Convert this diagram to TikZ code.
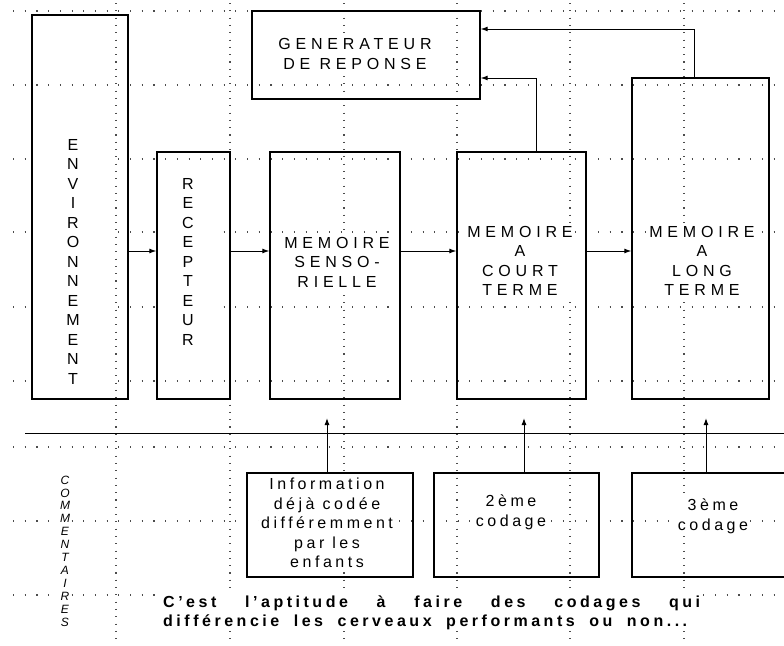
\documentclass[tikz,border=0pt]{standalone}
\usepackage{fontspec}
\setmainfont{Liberation Sans}
\newfontfamily\capsf[LetterSpace=30]{Liberation Sans}
\newfontfamily\lowf[LetterSpace=22]{Liberation Sans}
\newfontfamily\boldf[LetterSpace=22]{Liberation Sans Bold}
\usetikzlibrary{arrows.meta}
\tikzset{
  box/.style={draw, line width=1.3pt, inner sep=0pt},
  capslbl/.style={fill=white, inner sep=2pt, align=center, font={\capsf\fontsize{16}{19.5}\selectfont}},
  lowlbl/.style={fill=white, inner sep=2pt, align=center, font={\lowf\fontsize{16}{19.5}\selectfont}},
  stacklbl/.style={fill=white, inner sep=2pt, align=center, font={\fontsize{16}{19.5}\selectfont}},
  comlbl/.style={fill=white, inner sep=1.5pt, align=center, font={\itshape\fontsize{12}{12.9}\selectfont}},
  boldlbl/.style={fill=white, inner sep=1pt, align=left, anchor=west, font={\boldf\fontsize{16}{19}\selectfont}},
  arr/.style={line width=1pt, -{Latex[length=7pt,width=5pt]}},
  sep/.style={line width=1pt},
  hdot/.style={line width=1.1pt, black!70, dash pattern=on 1.1pt off 10.6pt},
  vdot/.style={line width=1.1pt, black!70, dash pattern=on 1.1pt off 6.2pt},
}
\begin{document}
\begin{tikzpicture}[x=1pt,y=-1pt]
\clip (0,0) rectangle (784,645);
\fill[white] (0,0) rectangle (784,645);
% grid
\foreach \y in {11,85,159,232,307,381,447,521,595} \draw[hdot] (13,\y) -- (784,\y);
\foreach \x in {116,230,344,457,570,684} \draw[vdot] (\x,3) -- (\x,645);
% boxes
\node[box, minimum width=96pt, minimum height=384pt] (env) at (80,207) {};
\node[box, minimum width=73pt, minimum height=247pt] (rec) at (193.5,275.5) {};
\node[box, minimum width=130pt, minimum height=247pt] (sens) at (335,275.5) {};
\node[box, minimum width=228pt, minimum height=88pt] (gen) at (366,55) {};
\node[box, minimum width=129pt, minimum height=247pt] (court) at (521.5,275.5) {};
\node[box, minimum width=137pt, minimum height=321pt] (long) at (700.5,238.5) {};
\node[box, minimum width=166pt, minimum height=104pt] (info) at (330,525) {};
\node[box, minimum width=165pt, minimum height=104pt] (c2) at (516.5,525) {};
\node[box, minimum width=166pt, minimum height=104pt] (c3) at (715,525) {};
% labels
\node[stacklbl, minimum width=76pt] (envt) at (73,261.5) {E\\N\\V\\I\\R\\O\\N\\N\\E\\M\\E\\N\\T};
\node[stacklbl, minimum width=56pt] (rect) at (188,261.5) {R\\E\\C\\E\\P\\T\\E\\U\\R};
\node[capslbl] (gent) at (355,54) {GENERATEUR\\DE REPONSE};
\node[capslbl] (senst) at (337,262) {MEMOIRE\\SENSO-\\RIELLE};
\node[capslbl] (courtt) at (520,261) {MEMOIRE\\A\\COURT\\TERME};
\node[capslbl] (longt) at (702,261) {MEMOIRE\\A\\LONG\\TERME};
\node[lowlbl] (infot) at (327,523) {Information\\déjà codée\\différemment\\par les\\enfants};
\node[lowlbl] (c2t) at (511,512.5) {2ème\\codage};
\node[lowlbl] (c3t) at (713,516.5) {3ème\\codage};
\node[comlbl] (com) at (65,551) {C\\O\\M\\M\\E\\N\\T\\A\\I\\R\\E\\S};
\node[boldlbl] (concl) at (162,612.5) {\makebox[537pt][s]{C’est l’aptitude à faire des codages qui}\\\makebox[524pt][s]{différencie les cerveaux performants ou non...}};
% separator
\coordinate (sl) at (25,433);
\coordinate (sr) at (784,433);
\draw[sep] (sl) -- (sr);
% horizontal flow
\coordinate (ya) at (0,251);
\draw[arr] (env.east |- ya) -- (rec.west |- ya);
\draw[arr] (rec.east |- ya) -- (sens.west |- ya);
\draw[arr] (sens.east |- ya) -- (court.west |- ya);
\draw[arr] (court.east |- ya) -- (long.west |- ya);
% to generator
\coordinate (k1) at (536,78);
\coordinate (k2) at (694,29);
\draw[arr] (court.north -| k1) |- (gen.east |- k1);
\draw[arr] (long.north -| k2) |- (gen.east |- k2);
% comments arrows
\coordinate (t1) at (327,418);
\coordinate (t2) at (524,418);
\coordinate (t3) at (706,418);
\draw[arr] (info.north -| t1) -- (t1);
\draw[arr] (c2.north -| t2) -- (t2);
\draw[arr] (c3.north -| t3) -- (t3);
\end{tikzpicture}
\end{document}
